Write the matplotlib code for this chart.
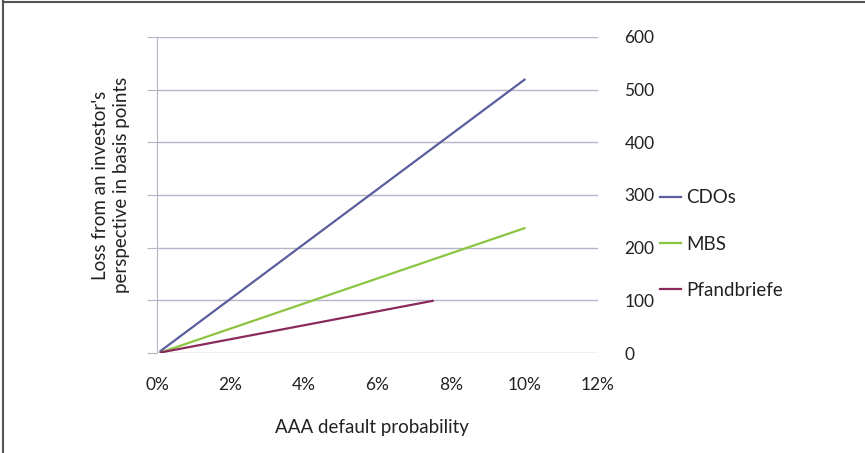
import matplotlib.pyplot as plt
from matplotlib.lines import Line2D

plt.rcParams['font.family'] = ['Lato', 'DejaVu Sans']

# default probability (%) and loss in basis points
x_cdo = [0.1, 10.0]
y_cdo = [4, 519]
x_mbs = [0.1, 10.0]
y_mbs = [1, 237]
x_pfb = [0.1, 7.5]
y_pfb = [1, 99]

xticks = [0, 2, 4, 6, 8, 10, 12]
yticks = [0, 100, 200, 300, 400, 500, 600]

grid_col = '#b4b6c8'
txt_col = '#222222'
fs = 12.5

fig = plt.figure(figsize=(8.65, 4.53), dpi=100)
ax = fig.add_axes([157/865, 1-353/453, 441/865, 316/453])

ax.plot(x_cdo, y_cdo, color='#5a5e9e', lw=1.6, label='CDOs')
ax.plot(x_mbs, y_mbs, color='#8cc540', lw=1.6, label='MBS')
ax.plot(x_pfb, y_pfb, color='#8a2a5c', lw=1.6, label='Pfandbriefe')

ax.set_xlim(0, 12)
ax.set_ylim(0, 600)
ax.set_xticks(xticks)
ax.set_xticklabels([f'{v}%' for v in xticks])
ax.set_yticks(yticks)
ax.grid(axis='y', color=grid_col, lw=1)
ax.set_axisbelow(True)

for s in ['top', 'right', 'bottom']:
    ax.spines[s].set_visible(False)
ax.spines['left'].set_color(grid_col)

ax.tick_params(axis='y', left=True, right=False, labelleft=False, labelright=True,
               length=7, color=grid_col, pad=12, labelsize=fs, labelcolor=txt_col)
ax.tick_params(axis='x', length=0, pad=17, labelsize=fs, labelcolor=txt_col)

fig.text(372/865, 1-427/453, 'AAA default probability', ha='center', va='center',
         fontsize=13.5, color=txt_col)
fig.text(111/865, 1-185/453, "Loss from an investor's\nperspective in basis points",
         ha='center', va='center', rotation=90, fontsize=13.5, color=txt_col,
         linespacing=1.35)

ax.legend(loc='center left', bbox_to_anchor=(643/865, 1-244/453),
          bbox_transform=fig.transFigure, frameon=False, fontsize=13.5,
          handlelength=1.1, handletextpad=0.3, labelspacing=1.55, labelcolor=txt_col)

# outer frame (top and left edges)
fig.add_artist(Line2D([3/865, 3/865], [0, 1-1/453], transform=fig.transFigure,
                      color='#555555', lw=1.5))
fig.add_artist(Line2D([3/865, 1], [1-1.5/453, 1-1.5/453], transform=fig.transFigure,
                      color='#555555', lw=1.5))

fig.savefig('out.png', dpi=100)
